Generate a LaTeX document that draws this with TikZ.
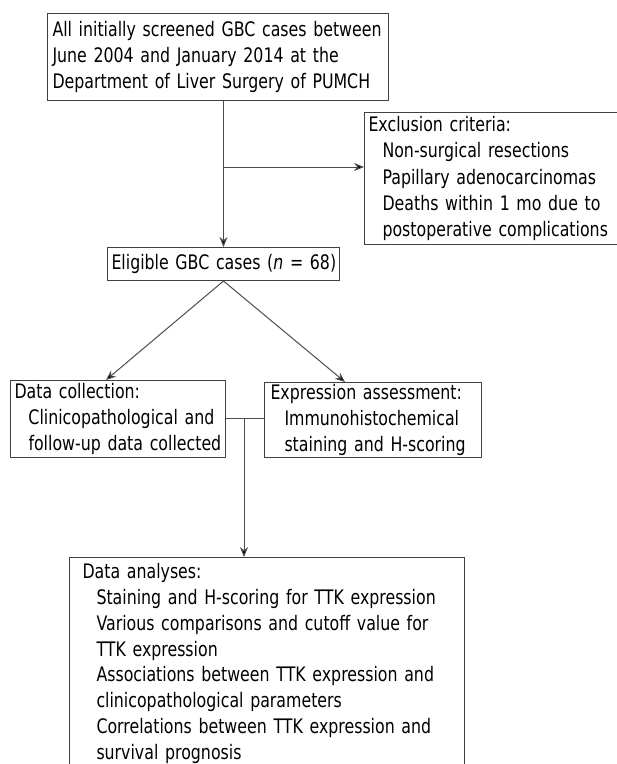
\documentclass[tikz,border=0pt]{standalone}
\usepackage{fontspec}
\setmainfont{DejaVu Sans}[FakeStretch=0.79]
\usetikzlibrary{arrows.meta,calc}
\newcommand\Lx[1]{\mbox{#1}}
\newcommand\Ind[1]{\mbox{\hspace*{14pt}#1}}
\begin{document}
\begin{tikzpicture}[x=1pt,y=-1pt,
  box/.style={draw=black!75,line width=1pt,rectangle,anchor=north west,inner ysep=0pt,
    align=left,font=\fontsize{20}{26.3}\selectfont},
  conn/.style={draw=black!70,line width=1pt},
  arr/.style={conn,-{Stealth[length=10pt,width=8pt,fill=black]}}]
\useasboundingbox (0,0) rectangle (617,764);
\node[box,minimum width=341,minimum height=87,inner xsep=5pt,text width=331pt] (b1) at (47,13)
  {\Lx{All initially screened GBC cases between}\\
   \Lx{June 2004 and January 2014 at the}\\
   \Lx{Department of Liver Surgery of PUMCH}};
\node[box,minimum width=256,minimum height=132,inner xsep=4pt,text width=248pt] (excl) at (364,112)
  {\Lx{Exclusion criteria:}\\
   \Ind{Non-surgical resections}\\
   \Ind{Papillary adenocarcinomas}\\
   \Ind{Deaths within 1 mo due to}\\
   \Ind{postoperative complications}};
\node[box,align=center,minimum width=232,minimum height=33,inner xsep=4pt,text width=224pt] (elig) at (107,247)
  {\Lx{Eligible GBC cases (\textit{n} = 68)}};
\node[box,minimum width=215,minimum height=77,inner xsep=4pt,text width=207pt] (dc) at (10,380)
  {\Lx{Data collection:}\\
   \Ind{Clinicopathological and}\\
   \Ind{follow-up data collected}};
\node[box,minimum width=217,minimum height=75,inner xsep=6pt,text width=205pt] (ea) at (264,382)
  {\Lx{Expression assessment:}\\
   \Ind{Immunohistochemical}\\
   \Ind{staining and H-scoring}};
\node[box,font=\fontsize{20}{25.8}\selectfont,minimum width=395,minimum height=212,inner xsep=13pt,text width=369pt] (da) at (69,557)
  {\Lx{Data analyses:}\\
   \Ind{Staining and H-scoring for TTK expression}\\
   \Ind{Various comparisons and cutoff value for}\\
   \Ind{TTK expression}\\
   \Ind{Associations between TTK expression and}\\
   \Ind{clinicopathological parameters}\\
   \Ind{Correlations between TTK expression and}\\
   \Ind{survival prognosis}};
% connectors
\coordinate (top) at (elig.north |- b1.south);
\coordinate (br) at (223,167);
\draw[arr] (top) -- (elig.north);
\draw[arr] (br) -- (br -| excl.west);
\draw[arr] (elig.south) -- ([xshift=96pt]dc.north west);
\draw[arr] (elig.south) -- ([xshift=81pt]ea.north west);
\coordinate (jn) at (244,418);
\draw[conn] (jn -| dc.east) -- (jn -| ea.west);
\draw[arr] (jn) -- (jn |- da.north);
\end{tikzpicture}
\end{document}
